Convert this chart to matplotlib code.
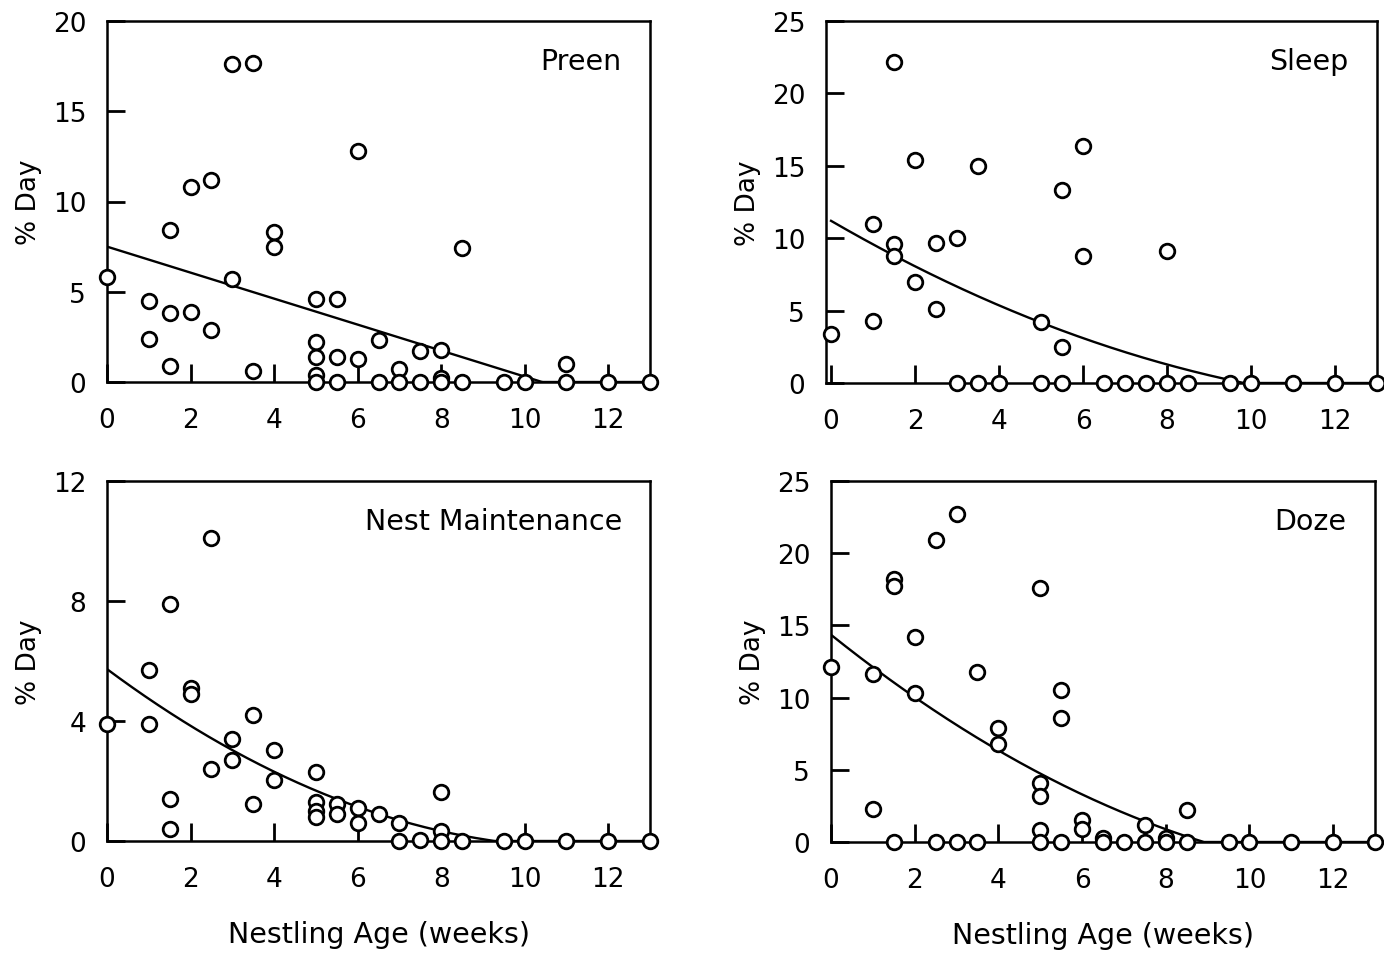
import numpy as np
import matplotlib
matplotlib.use("Agg")
import matplotlib.pyplot as plt

# nestling age (weeks) and % of day for each behaviour
preen_x = [0, 1, 1, 1.5, 1.5, 1.5, 2, 2, 2.5, 2.5, 3, 3, 3.5, 3.5, 4, 4,
           5, 5, 5, 5, 5, 5.5, 5.5, 5.5, 6, 6, 6.5, 6.5, 7, 7, 7.5, 7.5,
           8, 8, 8, 8.5, 8.5, 9.5, 10, 11, 11, 12, 13]
preen_y = [5.8, 4.5, 2.4, 8.4, 3.8, 0.9, 10.8, 3.9, 11.2, 2.9, 17.6, 5.7, 17.7, 0.6, 8.3, 7.5,
           4.6, 2.2, 1.4, 0.4, 0, 4.6, 1.4, 0, 12.8, 1.3, 2.3, 0, 0.7, 0, 1.7, 0,
           1.8, 0.2, 0, 7.4, 0, 0, 0, 1.0, 0, 0, 0]

sleep_x = [0, 1, 1, 1.5, 1.5, 1.5, 2, 2, 2.5, 2.5, 3, 3, 3.5, 3.5, 4, 5, 5,
           5.5, 5.5, 5.5, 6, 6, 6.5, 7, 7.5, 8, 8, 8.5, 9.5, 10, 11, 12, 13]
sleep_y = [3.4, 11.0, 4.3, 22.2, 9.6, 8.8, 15.4, 7.0, 9.7, 5.1, 10.0, 0, 15.0, 0, 0, 4.2, 0,
           13.3, 2.5, 0, 16.4, 8.8, 0, 0, 0, 9.1, 0, 0, 0, 0, 0, 0, 0]

nest_x = [0, 1, 1, 1.5, 1.5, 1.5, 2, 2, 2.5, 2.5, 3, 3, 3.5, 3.5, 4, 4,
          5, 5, 5, 5, 5.5, 5.5, 6, 6, 6.5, 7, 7, 7.5, 8, 8, 8, 8.5, 9.5, 10, 11, 12, 13]
nest_y = [3.9, 5.7, 3.9, 7.9, 1.4, 0.4, 5.1, 4.9, 10.1, 2.4, 3.4, 2.7, 4.2, 1.25, 3.05, 2.05,
          2.3, 1.3, 1.0, 0.8, 1.25, 0.9, 1.1, 0.6, 0.9, 0.6, 0, 0.05, 1.65, 0.35, 0, 0, 0, 0, 0, 0, 0]

doze_x = [0, 1, 1, 1.5, 1.5, 1.5, 2, 2, 2.5, 2.5, 3, 3, 3.5, 3.5, 4, 4,
          5, 5, 5, 5, 5, 5.5, 5.5, 5.5, 6, 6, 6.5, 6.5, 7, 7.5, 7.5, 8, 8, 8.5, 8.5,
          9.5, 10, 11, 12, 13]
doze_y = [12.1, 11.6, 2.3, 18.2, 17.7, 0, 14.2, 10.3, 20.9, 0, 22.7, 0, 11.8, 0, 7.9, 6.8,
          17.6, 4.1, 3.2, 0.8, 0, 10.5, 8.6, 0, 1.5, 0.9, 0.3, 0, 0, 1.2, 0, 0.3, 0, 2.2, 0,
          0, 0, 0, 0, 0]

# fitted curves: a + b*x + c*x^2, floored at zero
preen_fit = [7.5, -0.72, 0.0]
sleep_fit = [11.2, -1.68, 0.055]
nest_fit = [5.73, -1.035, 0.045]
doze_fit = [14.35, -2.32, 0.0796]

W, H = 1384, 954
fig = plt.figure(figsize=(W / 100, H / 100), dpi=100)


def px_axes(l, t, r, b):
    return fig.add_axes([l / W, 1 - b / H, (r - l) / W, (b - t) / H])


panels = [
    (px_axes(107, 22, 650, 383), preen_x, preen_y, preen_fit, "Preen", (0, 20), [0, 5, 10, 15, 20], (0, 13), False),
    (px_axes(826, 22, 1377, 384), sleep_x, sleep_y, sleep_fit, "Sleep", (0, 25), [0, 5, 10, 15, 20, 25], (-0.12, 13), False),
    (px_axes(107, 482, 650, 842), nest_x, nest_y, nest_fit, "Nest Maintenance", (0, 12), [0, 4, 8, 12], (0, 13), True),
    (px_axes(831, 482, 1375, 843), doze_x, doze_y, doze_fit, "Doze", (0, 25), [0, 5, 10, 15, 20, 25], (0, 13), True),
]

for ax, xs, ys, fit, name, ylim, yticks, xlim, bottom in panels:
    xx = np.linspace(0, 13, 300)
    yy = np.clip(fit[0] + fit[1] * xx + fit[2] * xx ** 2, 0, None)
    ax.plot(xx, yy, color="black", lw=1.7, zorder=2)
    ax.plot(xs, ys, "o", ms=10.5, mfc="white", mec="black", mew=2.0,
            clip_on=False, zorder=3)
    ax.set_xlim(*xlim)
    ax.set_ylim(*ylim)
    ax.set_xticks([0, 2, 4, 6, 8, 10, 12])
    ax.set_yticks(yticks)
    ax.tick_params(direction="in", length=13, width=2, labelsize=19, pad=15,
                   top=False, right=False)
    ax.tick_params(axis="x", pad=18)
    for sp in ax.spines.values():
        sp.set_linewidth(1.8)
    ax.set_ylabel("% Day", fontsize=19, labelpad=8)
    if bottom:
        ax.set_xlabel("Nestling Age (weeks)", fontsize=20.5, labelpad=20)
    ax.text(0.948, 0.89, name, transform=ax.transAxes, ha="right", va="center",
            fontsize=20.5)

fig.savefig("out.png", dpi=100)
